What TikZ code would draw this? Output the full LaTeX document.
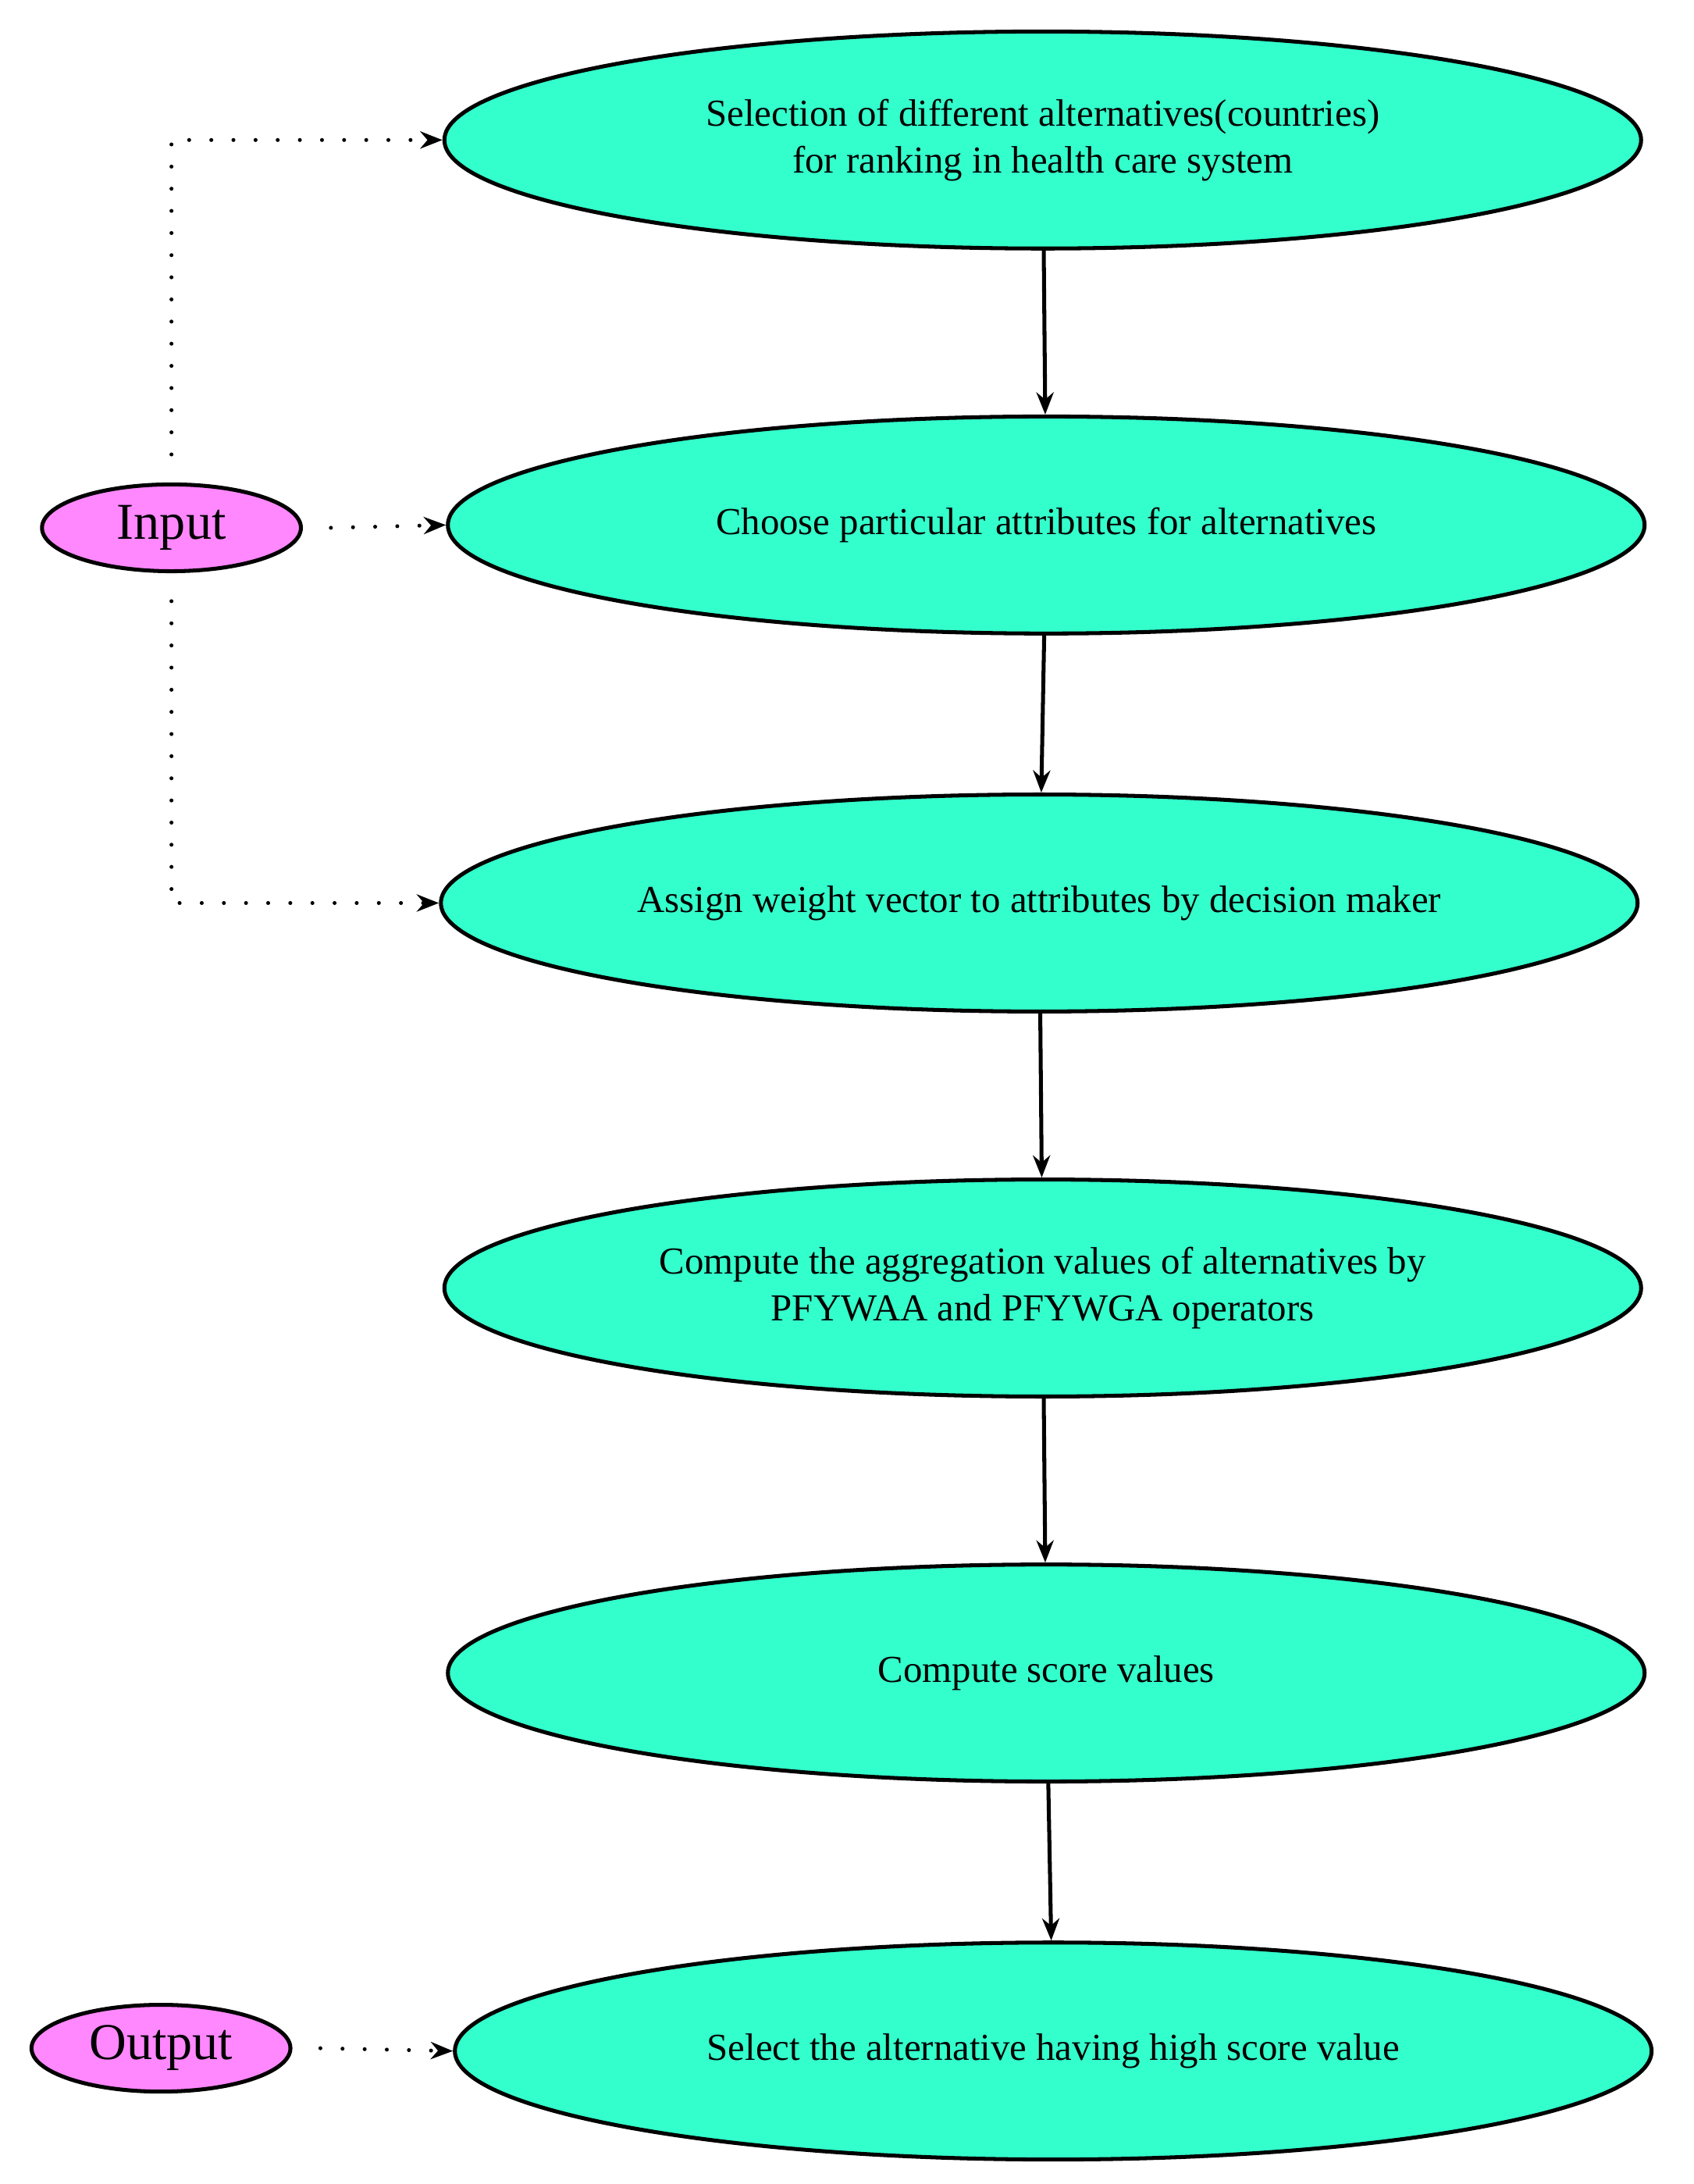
\documentclass[tikz,border=0pt]{standalone}
\usepackage{fontspec}
\setmainfont{Liberation Serif}
\usetikzlibrary{positioning,arrows.meta,shapes.geometric}

\definecolor{stagefill}{RGB}{51,255,204}
\definecolor{iofill}{RGB}{255,136,255}

\tikzset{
  stage/.style={ellipse, draw, line width=1.6pt, fill=stagefill,
    minimum width=17.1cm, minimum height=3.1cm, align=center, font=\fontsize{15.5}{19}\selectfont},
  io/.style={ellipse, draw, line width=1.6pt, fill=iofill,
    minimum width=3.7cm, minimum height=1.24cm, inner sep=0pt, font=\fontsize{21}{24}\selectfont},
  flow/.style={-{Stealth[length=9pt,width=7pt]}, line width=1.6pt},
  dots/.style={-{Stealth[length=9pt,width=7pt]}, line width=1.6pt, dash pattern=on 0pt off 9pt, line cap=round}
}

\begin{document}
\begin{tikzpicture}
\useasboundingbox (0,0) rectangle (24.2,-31.2);

% Steps
\node[stage] (sel)   at (14.9,-2.0)  {Selection of different alternatives(countries)\\for ranking in health care system};
\node[stage] (attr)  at (14.95,-7.5) {Choose particular attributes for alternatives};
\node[stage] (wgt)   at (14.85,-12.9) {Assign weight vector to attributes by decision maker};
\node[stage] (agg)   at (14.9,-18.4) {Compute the aggregation values of alternatives by\\PFYWAA and PFYWGA operators};
\node[stage] (score) at (14.95,-23.9) {Compute score values};
\node[stage] (best)  at (15.05,-29.3) {Select the alternative having high score value};

% Input and output
\node[io] (in)  at (2.45,-7.54) {Input};
\node[io] (out) at (2.3,-29.26) {Output};

% Main flow
\draw[flow] (sel) -- (attr);
\draw[flow] (attr) -- (wgt);
\draw[flow] (wgt) -- (agg);
\draw[flow] (agg) -- (score);
\draw[flow] (score) -- (best);

% Dotted inputs
\draw[dots] ([yshift=0.4cm]in.north) |- (sel.west);
\draw[dots] ([xshift=0.4cm]in.east) -- (attr.west);
\draw[dots] ([yshift=-0.4cm]in.south) |- (wgt.west);
\draw[dots] ([xshift=0.4cm]out.east) -- (best.west);
\end{tikzpicture}
\end{document}
